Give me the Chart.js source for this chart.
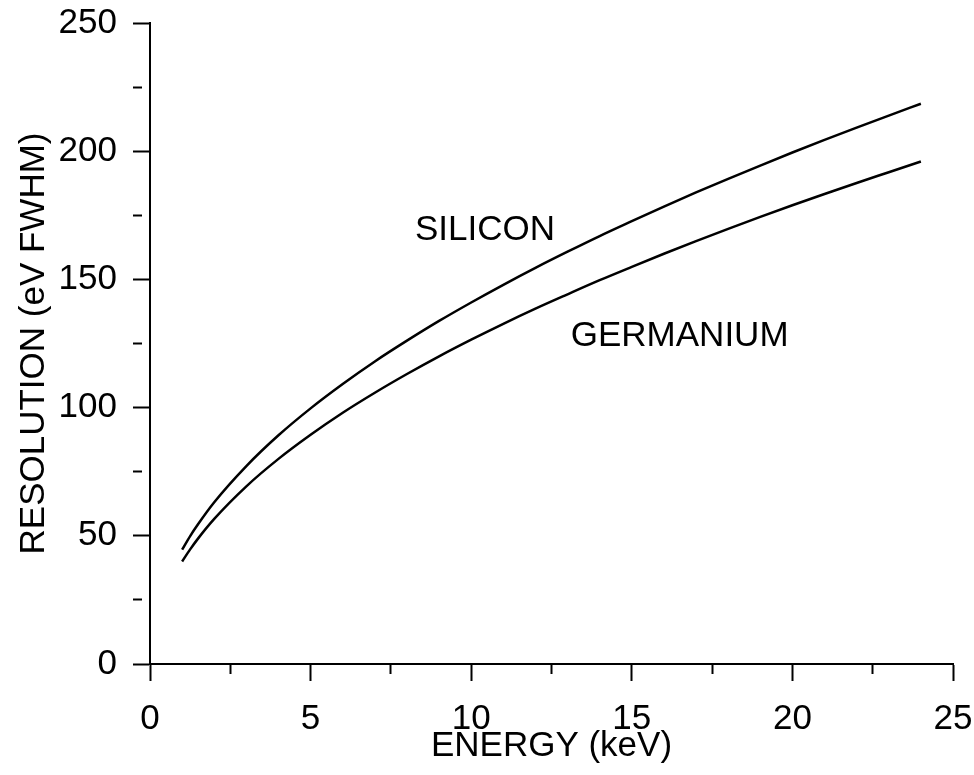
<!DOCTYPE html>
<html>
<head>
<meta charset="utf-8">
<script src="https://cdn.jsdelivr.net/npm/chart.js@4"></script>
<style>
  html, body { margin: 0; padding: 0; background: #fff; }
  #wrap { width: 974px; height: 775px; }
</style>
</head>
<body>
<div id="wrap"><canvas id="c" width="974" height="775"></canvas></div>
<script>
// Energy (keV) sample points
const energy = [1, 1.25, 1.5, 2, 3, 4, 5, 6, 7, 8, 9, 10, 11, 12, 13, 14, 15, 16, 17, 18, 19, 20, 21, 22, 23, 24];
// Resolution (eV FWHM)
const silicon = [44.6, 49.9, 54.6, 63.1, 77.2, 89.2, 99.7, 109.2, 118.0, 126.1, 133.8, 141.0, 147.9, 154.5, 160.8, 166.9, 172.7, 178.4, 183.9, 189.2, 194.4, 199.5, 204.4, 209.2, 213.9, 218.5];
const germanium = [40.0, 44.7, 49.0, 56.6, 69.3, 80.0, 89.4, 98.0, 105.8, 113.1, 120.0, 126.5, 132.7, 138.6, 144.2, 149.7, 154.9, 160.0, 164.9, 169.7, 174.4, 178.9, 183.3, 187.6, 191.8, 196.0];
const seriesNames = ["SILICON", "GERMANIUM"];
const xTitle = "ENERGY (keV)";
const yTitle = "RESOLUTION (eV FWHM)";
// label anchor points in data units (left edge, baseline)
const labelAnchors = [{ text: "SILICON", x: 8.25, y: 165.3 }, { text: "GERMANIUM", x: 13.1, y: 124.0 }];

const FONT = '"Liberation Sans", Arial, Helvetica, sans-serif';

const toPts = (ys) => energy.map((e, i) => ({ x: e, y: ys[i] }));

const labelPlugin = {
  id: 'curveLabels',
  afterDatasetsDraw(chart) {
    const { ctx, scales: { x, y } } = chart;
    ctx.save();
    ctx.fillStyle = '#000';
    ctx.font = '35px ' + FONT;
    ctx.textAlign = 'left';
    ctx.textBaseline = 'alphabetic';
    labelAnchors.forEach(a => {
      ctx.fillText(a.text, x.getPixelForValue(a.x), y.getPixelForValue(a.y));
    });
    ctx.restore();
  }
};

const minorDash = (step) => (c) => {
  const v = c.tick ? c.tick.value : 0;
  return (Math.abs(v / step - Math.round(v / step)) < 1e-6) ? [] : [9, 60];
};

const zeroPad = (s) => { s.paddingLeft = 0; s.paddingRight = 0; s.paddingTop = 0; s.paddingBottom = 0; };

new Chart(document.getElementById('c'), {
  type: 'line',
  data: {
    datasets: [
      { label: seriesNames[0], data: toPts(silicon), borderColor: '#000', borderWidth: 2.5, pointRadius: 0, fill: false, cubicInterpolationMode: 'monotone' },
      { label: seriesNames[1], data: toPts(germanium), borderColor: '#000', borderWidth: 2.5, pointRadius: 0, fill: false, cubicInterpolationMode: 'monotone' }
    ]
  },
  options: {
    responsive: false,
    animation: false,
    layout: { padding: { left: 0, top: 23, right: 21, bottom: 0 } },
    plugins: { legend: { display: false }, tooltip: { enabled: false } },
    scales: {
      x: {
        type: 'linear', position: 'bottom', min: 0, max: 25,
        afterFit: (s) => { s.height = 111; zeroPad(s); },
        border: { display: true, color: '#000', width: 2 },
        grid: { drawOnChartArea: false, drawTicks: true, tickLength: 17, tickColor: '#000', tickWidth: 2, tickBorderDash: minorDash(5) },
        ticks: {
          stepSize: 2.5, autoSkip: false, maxRotation: 0, padding: 17, color: '#000',
          font: { family: FONT, size: 35 },
          callback: (v) => (Math.abs(v % 5) < 1e-6 ? String(v) : '')
        },
        title: { display: true, text: xTitle, color: '#000', font: { family: FONT, size: 35 }, padding: { top: 0, bottom: 8 } }
      },
      y: {
        type: 'linear', position: 'left', min: 0, max: 250,
        afterFit: (s) => { s.width = 150; zeroPad(s); },
        border: { display: true, color: '#000', width: 2 },
        grid: { drawOnChartArea: false, drawTicks: true, tickLength: 17, tickColor: '#000', tickWidth: 2, tickBorderDash: minorDash(50) },
        ticks: {
          stepSize: 25, autoSkip: false, padding: 16, color: '#000',
          font: { family: FONT, size: 35 },
          callback: (v) => (Math.abs(v % 50) < 1e-6 ? String(v) : '')
        },
        title: { display: true, text: yTitle, color: '#000', font: { family: FONT, size: 35 }, padding: { top: 13, bottom: 0 } }
      }
    }
  },
  plugins: [labelPlugin]
});
</script>
</body>
</html>
